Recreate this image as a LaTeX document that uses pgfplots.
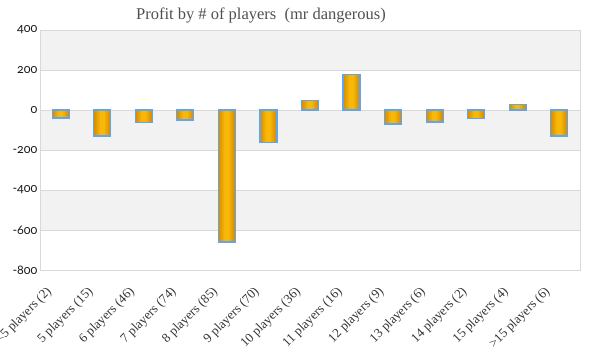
\documentclass[border=0pt]{standalone}
\usepackage{pgfplots}
\pgfplotsset{compat=1.18}
\usepackage{fontspec}
\setmainfont{Liberation Serif}
\newfontfamily\tickfont[Numbers=OldStyle]{Lato}
\definecolor{gridc}{HTML}{D9D9D9}
\definecolor{band}{HTML}{F2F2F2}
\definecolor{barl}{HTML}{D98E00}
\definecolor{barm}{HTML}{F8B80A}
\definecolor{edgec}{HTML}{5EA6F2}
\definecolor{titlec}{HTML}{505050}
\pgfplotstableread{
x y
0 -40
1 -130
2 -61
3 -50
4 -660
5 -163
6 48
7 178
8 -70
9 -60
10 -42
11 28
12 -130
}\profit
\begin{document}
\begin{tikzpicture}
\begin{axis}[
  set layers,
  scale only axis, width=540pt, height=240pt,
  xmin=-0.5, xmax=12.5, ymin=-800, ymax=400,
  ytick={-800,-600,...,400},
  xtick={0,...,12},
  xticklabels={{<5 players (2)},{5 players (15)},{6 players (46)},{7 players (74)},{8 players (85)},{9 players (70)},{10 players (36)},{11 players (16)},{12 players (9)},{13 players (6)},{14 players (2)},{15 players (4)},{>15 players (6)}},
  x tick label style={xshift=-11pt, yshift=-20pt, rotate=45, anchor=east, font=\fontsize{13}{14}\selectfont, text=black!80, inner sep=0pt},
  y tick label style={font=\tickfont\fontsize{12.5}{13}\selectfont, text=black!90, xshift=1pt},
  /pgf/number format/assume math mode=true,
  ymajorgrids, major grid style={gridc, line width=0.8pt},
  axis line style={gridc, line width=0.8pt},
  major tick length=0pt,
  title={Profit by \# of players\ \ (mr dangerous)},
  title style={font=\fontsize{16.5}{18}\selectfont, text=titlec, yshift=-3pt, xshift=-49pt},
  ybar, bar shift=0pt,
]
\begin{pgfonlayer}{axis background}
\fill[band] (axis cs:-0.5,200) rectangle (axis cs:12.5,400);
\fill[band] (axis cs:-0.5,-200) rectangle (axis cs:12.5,0);
\fill[band] (axis cs:-0.5,-600) rectangle (axis cs:12.5,-400);
\end{pgfonlayer}
\addplot[draw=none, fill=barl, bar width=17pt, bar shift=0pt] table {\profit};
\addplot[draw=none, fill=barm!25!barl, bar width=14pt, bar shift=0pt] table {\profit};
\addplot[draw=none, fill=barm!50!barl, bar width=11pt, bar shift=0pt] table {\profit};
\addplot[draw=none, fill=barm!75!barl, bar width=8pt, bar shift=0pt] table {\profit};
\addplot[draw=none, fill=barm, bar width=5pt, bar shift=0pt] table {\profit};
\addplot[draw=edgec, fill=none, line width=1.1pt, bar width=17pt, bar shift=0pt] table {\profit};
\end{axis}
\pgfresetboundingbox
\path[use as bounding box] ([shift={(-40pt,-90pt)}]current axis.south west) rectangle ([shift={(20pt,30pt)}]current axis.north east);
\end{tikzpicture}
\end{document}
